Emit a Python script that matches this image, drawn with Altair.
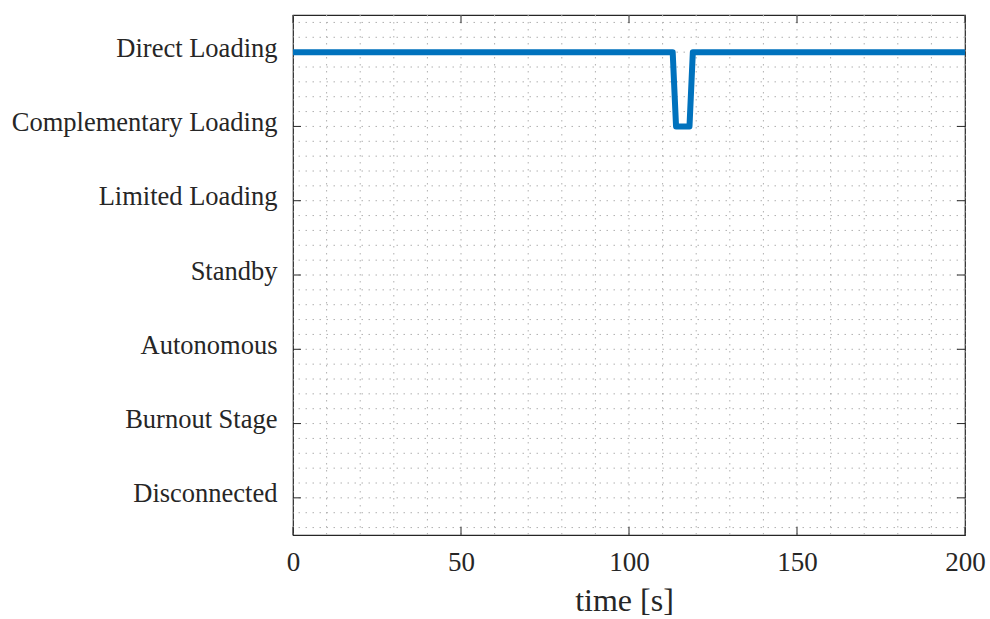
import altair as alt
import pandas as pd

# ---- data ----
time_s = [0, 113, 114, 118, 119, 200]
state_level = [7, 7, 6, 6, 7, 7]
state_values = [1, 2, 3, 4, 5, 6, 7]
state_names = ["Disconnected", "Burnout Stage", "Autonomous", "Standby",
               "Limited Loading", "Complementary Loading", "Direct Loading"]
x_ticks = [0, 50, 100, 150, 200]
x_minor = list(range(0, 201, 10))
y_minor = [round(0.6 + 0.2 * i, 1) for i in range(35)]

W, H = 672, 520
FONT = "Liberation Serif"
INK = "#262626"
GRID = "#b0b0b0"
TICK = 8

line_df = pd.DataFrame({"t": time_s, "s": state_level})
xt_df = pd.DataFrame({"t": x_ticks})
yt_df = pd.DataFrame({"s": state_values})
xg_df = pd.DataFrame({"t": x_minor})
yg_df = pd.DataFrame({"s": y_minor})

xs = alt.Scale(domain=[0, 200], nice=False, zero=False)
ys = alt.Scale(domain=[0.5, 7.5], nice=False, zero=False)

mapping = "{" + ",".join(f"'{v}':'{n}'" for v, n in zip(state_values, state_names)) + "}"
label_expr = f"{mapping}[datum.value]"

x_axis = alt.Axis(values=x_ticks, grid=False, ticks=False, domain=False,
                  labelFont=FONT, labelFontSize=27, labelColor=INK, labelPadding=14,
                  titleFont=FONT, titleFontSize=32, titleFontWeight="normal",
                  titleColor=INK, titlePadding=10, titleX=W / 2 - 5, labelFlush=False)
y_axis = alt.Axis(values=state_values, labelExpr=label_expr, grid=False, ticks=False,
                  domain=False, labelFont=FONT, labelFontSize=26.5, labelColor=INK,
                  labelPadding=16, labelLimit=400, labelOffset=-4)


def X(field="t"):
    return alt.X(f"{field}:Q", scale=xs, axis=x_axis, title="time [s]")


def Y(field="s"):
    return alt.Y(f"{field}:Q", scale=ys, axis=y_axis, title=None)


vgrid = alt.Chart(xg_df).mark_rule(color=GRID, strokeDash=[1.5, 5.5], strokeWidth=1).encode(x=X())
hgrid = alt.Chart(yg_df).mark_rule(color=GRID, strokeDash=[1.5, 5.5], strokeWidth=1).encode(y=Y())

bt = alt.Chart(xt_df).mark_rule(color=INK, strokeWidth=1).encode(
    x=X(), y=alt.value(H), y2=alt.value(H - TICK))
tt = alt.Chart(xt_df).mark_rule(color=INK, strokeWidth=1).encode(
    x=X(), y=alt.value(0), y2=alt.value(TICK))
lt = alt.Chart(yt_df).mark_rule(color=INK, strokeWidth=1).encode(
    y=Y(), x=alt.value(0), x2=alt.value(TICK))
rt = alt.Chart(yt_df).mark_rule(color=INK, strokeWidth=1).encode(
    y=Y(), x=alt.value(W), x2=alt.value(W - TICK))

line = alt.Chart(line_df).mark_line(color="#0072BD", strokeWidth=6, strokeJoin="round").encode(
    x=X(), y=Y())

chart = alt.layer(vgrid, hgrid, bt, tt, lt, rt, line).properties(
    width=W, height=H,
    padding={"left": 293, "top": 15, "right": 25, "bottom": 84},
    autosize=alt.AutoSizeParams(type="none"),
    background="white",
).configure_view(stroke=INK, strokeWidth=1.2)

chart.save("out.html", embed_options={"renderer": "svg", "actions": False})
